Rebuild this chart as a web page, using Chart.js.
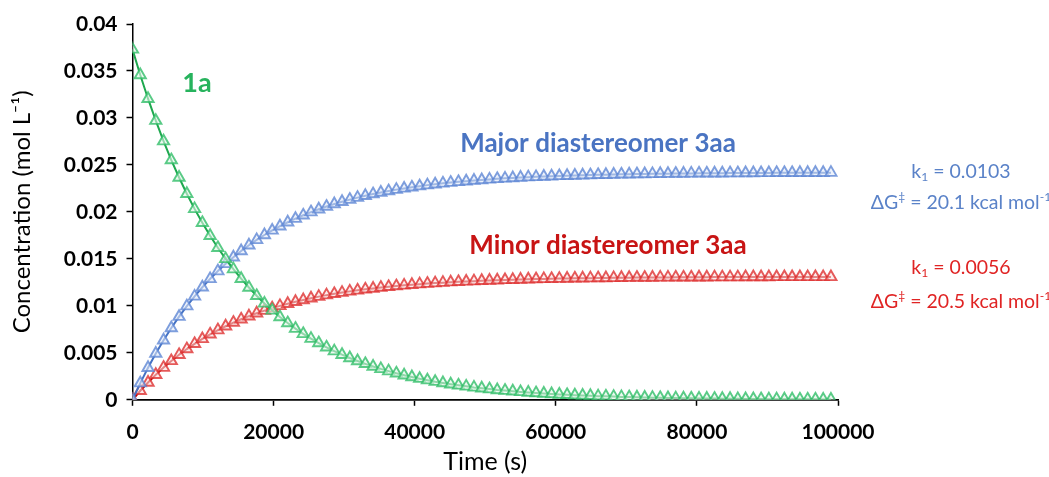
<!DOCTYPE html>
<html>
<head>
<meta charset="utf-8">
<script src="https://cdn.jsdelivr.net/npm/chart.js@4.4.0/dist/chart.umd.min.js"></script>
<style>
  html, body { margin: 0; padding: 0; background: #fff; }
  #wrap { width: 1049px; height: 477px; }
</style>
</head>
<body>
<div id="wrap"><canvas id="chart" width="1049" height="477"></canvas></div>
<script>
// sampling times (s)
const times = [0, 1100, 2200, 3300, 4400, 5500, 6600, 7700, 8800, 9900,
  11000, 12100, 13200, 14300, 15400, 16500, 17600, 18700, 19800, 20900,
  22000, 23100, 24200, 25300, 26400, 27500, 28600, 29700, 30800, 31900,
  33000, 34100, 35200, 36300, 37400, 38500, 39600, 40700, 41800, 42900,
  44000, 45100, 46200, 47300, 48400, 49500, 50600, 51700, 52800, 53900,
  55000, 56100, 57200, 58300, 59400, 60500, 61600, 62700, 63800, 64900,
  66000, 67100, 68200, 69300, 70400, 71500, 72600, 73700, 74800, 75900,
  77000, 78100, 79200, 80300, 81400, 82500, 83600, 84700, 85800, 86900,
  88000, 89100, 90200, 91300, 92400, 93500, 94600, 95700, 96800, 97900, 99000];

// 1a (mol/L)
const conc1a = [0.03730, 0.03457, 0.03205, 0.02971, 0.02753, 0.02552, 0.02366, 0.02193, 0.02032, 0.01884,
  0.01746, 0.01618, 0.01500, 0.01391, 0.01289, 0.01195, 0.01107, 0.01026, 0.00952, 0.00882,
  0.00817, 0.00758, 0.00702, 0.00651, 0.00604, 0.00559, 0.00518, 0.00480, 0.00445, 0.00413,
  0.00383, 0.00355, 0.00329, 0.00305, 0.00282, 0.00262, 0.00243, 0.00225, 0.00209, 0.00193,
  0.00179, 0.00166, 0.00154, 0.00143, 0.00132, 0.00123, 0.00114, 0.00105, 0.00098, 0.00091,
  0.00084, 0.00078, 0.00072, 0.00067, 0.00062, 0.00057, 0.00053, 0.00049, 0.00046, 0.00043,
  0.00039, 0.00037, 0.00034, 0.00031, 0.00029, 0.00027, 0.00025, 0.00023, 0.00021, 0.00020,
  0.00018, 0.00017, 0.00016, 0.00015, 0.00014, 0.00013, 0.00012, 0.00011, 0.00010, 0.00009,
  0.00009, 0.00008, 0.00007, 0.00007, 0.00006, 0.00006, 0.00005, 0.00005, 0.00005, 0.00004, 0.00004];

// major diastereomer 3aa
const concMajor = [0, 0.00177, 0.00341, 0.00493, 0.00634, 0.00764, 0.00885, 0.00997, 0.01101, 0.01198,
  0.01287, 0.01370, 0.01447, 0.01518, 0.01584, 0.01645, 0.01702, 0.01754, 0.01803, 0.01848,
  0.01890, 0.01928, 0.01964, 0.01998, 0.02028, 0.02057, 0.02084, 0.02108, 0.02131, 0.02152,
  0.02172, 0.02190, 0.02207, 0.02222, 0.02237, 0.02250, 0.02262, 0.02274, 0.02285, 0.02295,
  0.02304, 0.02312, 0.02320, 0.02327, 0.02334, 0.02340, 0.02346, 0.02352, 0.02357, 0.02361,
  0.02366, 0.02370, 0.02373, 0.02377, 0.02380, 0.02383, 0.02385, 0.02388, 0.02390, 0.02392,
  0.02395, 0.02396, 0.02398, 0.02400, 0.02401, 0.02403, 0.02404, 0.02405, 0.02406, 0.02407,
  0.02408, 0.02409, 0.02410, 0.02411, 0.02411, 0.02412, 0.02412, 0.02413, 0.02413, 0.02414,
  0.02414, 0.02415, 0.02415, 0.02416, 0.02416, 0.02416, 0.02417, 0.02417, 0.02417, 0.02417, 0.02418];

// minor diastereomer 3aa
const concMinor = [0, 0.00096, 0.00184, 0.00267, 0.00343, 0.00414, 0.00479, 0.00540, 0.00596, 0.00648,
  0.00697, 0.00742, 0.00783, 0.00822, 0.00857, 0.00890, 0.00921, 0.00949, 0.00976, 0.01000,
  0.01023, 0.01044, 0.01063, 0.01081, 0.01098, 0.01114, 0.01128, 0.01141, 0.01154, 0.01165,
  0.01176, 0.01185, 0.01195, 0.01203, 0.01211, 0.01218, 0.01225, 0.01231, 0.01237, 0.01242,
  0.01247, 0.01252, 0.01256, 0.01260, 0.01263, 0.01267, 0.01270, 0.01273, 0.01276, 0.01278,
  0.01281, 0.01283, 0.01285, 0.01287, 0.01288, 0.01290, 0.01291, 0.01293, 0.01294, 0.01295,
  0.01296, 0.01297, 0.01298, 0.01299, 0.01300, 0.01301, 0.01301, 0.01302, 0.01303, 0.01303,
  0.01304, 0.01304, 0.01304, 0.01305, 0.01305, 0.01306, 0.01306, 0.01306, 0.01306, 0.01307,
  0.01307, 0.01307, 0.01307, 0.01308, 0.01308, 0.01308, 0.01308, 0.01308, 0.01308, 0.01308, 0.01308];

const xTicks = [0, 20000, 40000, 60000, 80000, 100000];
const yTicks = [0, 0.005, 0.01, 0.015, 0.02, 0.025, 0.03, 0.035, 0.04];

const FONT = 'Lato, "Open Sans", sans-serif';

function toPoints(values) {
  return values.map((v, i) => ({ x: times[i], y: v }));
}

function series(values, line, marker, fill) {
  return {
    data: toPoints(values),
    borderColor: line,
    borderWidth: 2,
    pointStyle: 'triangle',
    pointRadius: 6.5,
    pointBorderWidth: 1.9,
    pointBorderColor: marker,
    pointBackgroundColor: fill,
    tension: 0
  };
}

// text with sub/superscript pieces, centred on (cx, cy)
function drawRich(ctx, parts, cx, cy, size, weight, color) {
  const segs = parts.map(([t, m]) => {
    const s = m ? size * 0.62 : size;
    ctx.font = `${weight} ${s}px ${FONT}`;
    return { t, m, s, w: ctx.measureText(t).width };
  });
  const total = segs.reduce((a, g) => a + g.w, 0);
  let x = cx - total / 2;
  ctx.fillStyle = color;
  ctx.textBaseline = 'middle';
  ctx.textAlign = 'left';
  segs.forEach(g => {
    ctx.font = `${weight} ${g.s}px ${FONT}`;
    const dy = g.m === 'sub' ? size * 0.28 : g.m === 'sup' ? -size * 0.3 : 0;
    ctx.fillText(g.t, x, cy + dy);
    x += g.w;
  });
}

const labelsPlugin = {
  id: 'labels',
  afterDraw(chart) {
    const ctx = chart.ctx;
    ctx.save();
    drawRich(ctx, [['1a', '']], 197, 83, 27, 'bold', '#27b35d');
    drawRich(ctx, [['Major diastereomer 3aa', '']], 598, 144, 26, 'bold', '#4a74c2');
    drawRich(ctx, [['Minor diastereomer 3aa', '']], 608, 246, 26, 'bold', '#c81414');

    drawRich(ctx, [['k', ''], ['1', 'sub'], [' = 0.0103', '']], 961, 172, 19.5, 'normal', '#5a82c8');
    drawRich(ctx, [['ΔG', ''], ['‡', 'sup'], [' = 20.1 kcal mol', ''], ['-1', 'sup']], 961, 203, 19.5, 'normal', '#5a82c8');
    drawRich(ctx, [['k', ''], ['1', 'sub'], [' = 0.0056', '']], 961, 268, 19.5, 'normal', '#e02424');
    drawRich(ctx, [['ΔG', ''], ['‡', 'sup'], [' = 20.5 kcal mol', ''], ['-1', 'sup']], 961, 302, 19.5, 'normal', '#e02424');
    ctx.restore();
  }
};

const ctx = document.getElementById('chart').getContext('2d');

new Chart(ctx, {
  type: 'scatter',
  data: {
    datasets: [
      series(conc1a, '#1fa84f', 'rgba(50,190,105,0.8)', 'rgba(225,245,232,0.6)'),
      series(concMajor, '#4472c4', 'rgba(95,135,212,0.8)', 'rgba(225,233,248,0.6)'),
      series(concMinor, '#c00000', 'rgba(222,50,50,0.8)', 'rgba(250,225,225,0.6)')
    ].map(d => Object.assign(d, { showLine: true }))
  },
  options: {
    responsive: false,
    devicePixelRatio: 1,
    animation: false,
    layout: { padding: { left: 8, right: 211, top: 24, bottom: 0 } },
    plugins: { legend: { display: false }, tooltip: { enabled: false } },
    scales: {
      x: {
        type: 'linear',
        min: 0,
        max: 100000,
        afterBuildTicks: s => { s.ticks = xTicks.map(v => ({ value: v })); },
        border: { color: '#000', width: 1.8 },
        grid: { drawOnChartArea: false, color: '#000', tickLength: 6, tickWidth: 1.5 },
        ticks: {
          color: '#000',
          font: { family: FONT, size: 21, weight: 'bold' },
          padding: 14,
          maxRotation: 0,
          autoSkip: false,
          callback: v => String(v)
        },
        title: {
          display: true,
          text: 'Time (s)',
          color: '#000',
          font: { family: FONT, size: 25 },
          padding: { top: -12, bottom: 0 }
        }
      },
      y: {
        min: 0,
        max: 0.04,
        afterBuildTicks: s => { s.ticks = yTicks.map(v => ({ value: v })); },
        border: { color: '#000', width: 1.5 },
        grid: { drawOnChartArea: false, color: '#000', tickLength: 6, tickWidth: 1.5 },
        ticks: {
          color: '#000',
          font: { family: FONT, size: 21, weight: 'bold' },
          padding: 9,
          autoSkip: false,
          callback: v => v === 0 ? '0' : String(parseFloat(v.toFixed(3)))
        },
        title: {
          display: true,
          text: 'Concentration (mol L⁻¹)',
          color: '#000',
          font: { family: FONT, size: 24 },
          padding: { top: 0, bottom: 18 }
        }
      }
    }
  },
  plugins: [labelsPlugin]
});
</script>
</body>
</html>
